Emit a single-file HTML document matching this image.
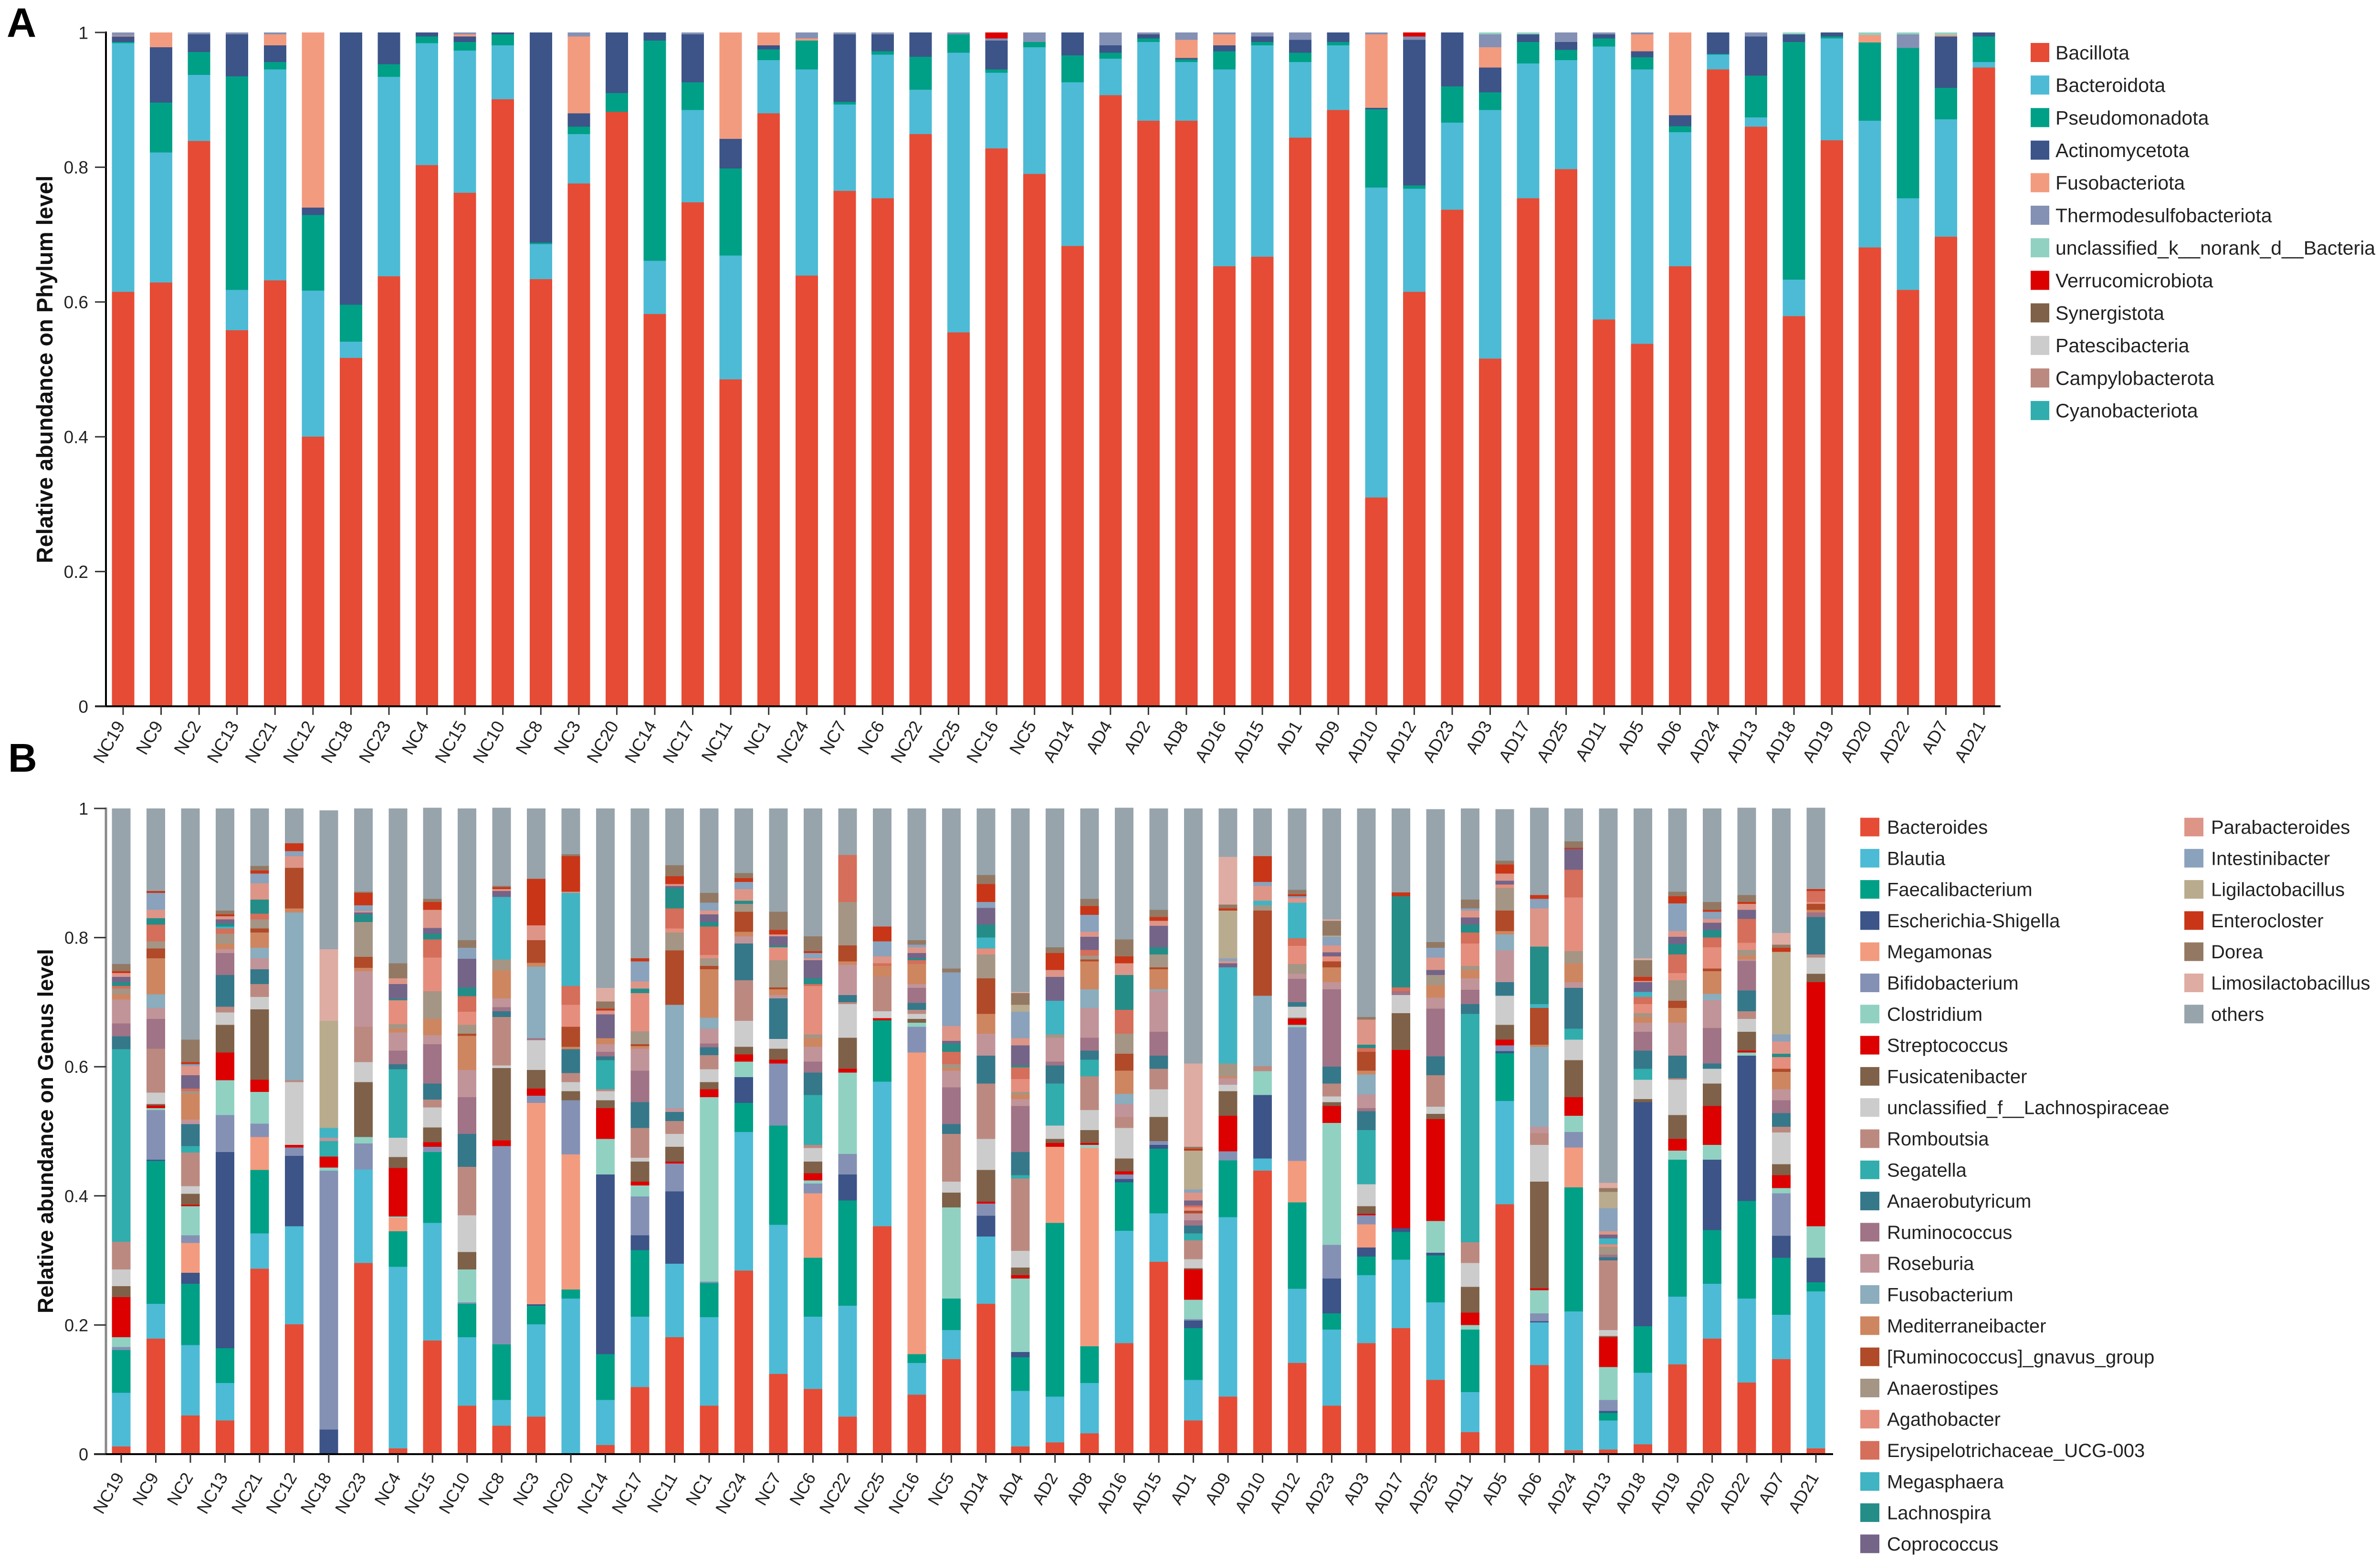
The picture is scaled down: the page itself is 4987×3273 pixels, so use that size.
<!DOCTYPE html>
<html lang="en">
<head>
<meta charset="utf-8">
<title>Relative abundance on Phylum and Genus level</title>
<style>
html,body{margin:0;padding:0;background:#fff;}
svg{display:block;}
text{font-family:"Liberation Sans",Arial,sans-serif;}
</style>
</head>
<body>
<svg id="figure" xmlns="http://www.w3.org/2000/svg" width="4987" height="3273" viewBox="0 0 4987 3273">
  <rect x="0" y="0" width="4987" height="3273" fill="#ffffff"/>
  <text x="14" y="77" font-size="86" font-weight="700" fill="#000">A</text>
  <text x="17" y="1617" font-size="84" font-weight="700" fill="#000">B</text>
  <text transform="translate(110,774) rotate(-90)" text-anchor="middle" font-size="47" font-weight="700" fill="#111">Relative abundance on Phylum level</text>
  <text transform="translate(111,2370) rotate(-90)" text-anchor="middle" font-size="45.5" font-weight="700" fill="#111">Relative abundance on Genus level</text>
  <g id="panelA"></g>
  <g id="panelB"></g>
</svg>
<script>
const phylumNames=["Bacillota","Bacteroidota","Pseudomonadota","Actinomycetota","Fusobacteriota","Thermodesulfobacteriota","unclassified_k__norank_d__Bacteria","Verrucomicrobiota","Synergistota","Patescibacteria","Campylobacterota","Cyanobacteriota"];
const phylumColors=["#E64B35","#4DBBD5","#00A087","#3C5488","#F39B7F","#8491B4","#91D1C2","#DC0000","#7E6148","#CCCCCC","#BC8980","#31ADAD"];
const genusNames=["Bacteroides","Blautia","Faecalibacterium","Escherichia-Shigella","Megamonas","Bifidobacterium","Clostridium","Streptococcus","Fusicatenibacter","unclassified_f__Lachnospiraceae","Romboutsia","Segatella","Anaerobutyricum","Ruminococcus","Roseburia","Fusobacterium","Mediterraneibacter","[Ruminococcus]_gnavus_group","Anaerostipes","Agathobacter","Erysipelotrichaceae_UCG-003","Megasphaera","Lachnospira","Coprococcus","Parabacteroides","Intestinibacter","Ligilactobacillus","Enterocloster","Dorea","Limosilactobacillus","others"];
const genusColors=["#E64B35","#4DBBD5","#00A087","#3C5488","#F39B7F","#8491B4","#91D1C2","#DC0000","#7E6148","#CCCCCC","#BC8980","#31ADAD","#35788A","#A07386","#C19499","#8BADBD","#CE8660","#B04A28","#A59585","#E58E7E","#D56E5A","#40B4C3","#258D88","#746488","#DD9588","#8AA2BC","#B9AB8E","#C93517","#937964","#DEACA2","#97A4AC"];
const sampleLabels=["NC19","NC9","NC2","NC13","NC21","NC12","NC18","NC23","NC4","NC15","NC10","NC8","NC3","NC20","NC14","NC17","NC11","NC1","NC24","NC7","NC6","NC22","NC25","NC16","NC5","AD14","AD4","AD2","AD8","AD16","AD15","AD1","AD9","AD10","AD12","AD23","AD3","AD17","AD25","AD11","AD5","AD6","AD24","AD13","AD18","AD19","AD20","AD22","AD7","AD21"];
const yTickValues=[0,0.2,0.4,0.6,0.8,1];
const yTickLabels=["0","0.2","0.4","0.6","0.8","1"];

/* Phylum level, one array per sample, in legend order */
const phylumNC19=[.615,.369,.002,.008,.001,.005];
const phylumNC9=[.629,.193,.074,.082,.022];
const phylumNC2=[.839,.098,.034,.026,0,.003];
const phylumNC13=[.558,.060,.317,.062,0,.003];
const phylumNC21=[.632,.313,.011,.025,.016,.003];
const phylumNC12=[.400,.217,.112,.011,.260];
const phylumNC18=[.517,.024,.055,.404];
const phylumNC23=[.638,.296,.019,.047];
const phylumNC4=[.803,.181,.010,.006];
const phylumNC15=[.762,.211,.013,.008,.003,.003];
const phylumNC10=[.901,.080,.016,.003];
const phylumNC8=[.634,.052,.002,.312];
const phylumNC3=[.776,.073,.011,.020,.114,.006];
const phylumNC20=[.882,0,.028,.090];
const phylumNC14=[.582,.079,.327,.012];
const phylumNC17=[.748,.137,.041,.071,0,.003];
const phylumNC11=[.485,.184,.129,.044,.158];
const phylumNC1=[.880,.079,.016,.006,.019];
const phylumNC24=[.639,.306,.043,0,.003,.009];
const phylumNC7=[.765,.128,.004,.100,0,.003];
const phylumNC6=[.754,.213,.005,.025,0,.003];
const phylumNC22=[.849,.066,.049,.036];
const phylumNC25=[.555,.415,.027,0,0,.003];
const phylumNC16=[.828,.112,.005,.043,0,.003,0,.009];
const phylumNC5=[.790,.188,.008,0,0,.014];
const phylumAD14=[.683,.243,.040,.034];
const phylumAD4=[.907,.054,.009,.011,0,.019];
const phylumAD2=[.869,.117,.005,.006,0,.003];
const phylumAD8=[.869,.087,.004,.002,.027,.011];
const phylumAD16=[.653,.292,.027,.009,.016,.003];
const phylumAD15=[.667,.314,.005,.008,0,.006];
const phylumAD1=[.844,.112,.014,.019,0,.011];
const phylumAD9=[.885,.096,.005,.014];
const phylumAD10=[.310,.460,.116,.002,.109,.003];
const phylumAD12=[.615,.153,.005,.216,0,.005,0,.006];
const phylumAD23=[.737,.129,.054,.080];
const phylumAD3=[.516,.369,.026,.037,.030,.019,.003];
const phylumAD17=[.754,.200,.032,.011,0,0,.003];
const phylumAD25=[.797,.162,.015,.012,0,.014];
const phylumAD11=[.574,.405,.012,.006,0,.003];
const phylumAD5=[.538,.407,.018,.009,.025,.003];
const phylumAD6=[.653,.199,.009,.016,.123];
const phylumAD24=[.945,.022,.001,.032];
const phylumAD13=[.860,.014,.062,.058,0,.006];
const phylumAD18=[.579,.054,.353,.011,0,0,.003];
const phylumAD19=[.840,.151,.003,.006];
const phylumAD20=[.681,.188,.116,0,.011,0,.004];
const phylumAD22=[.618,.136,.223,0,0,.020,.003];
const phylumAD7=[.697,.174,.047,.076,.002,0,.004];
const phylumAD21=[.948,.008,.038,.006];
const phylumRows=[phylumNC19,phylumNC9,phylumNC2,phylumNC13,phylumNC21,phylumNC12,phylumNC18,phylumNC23,phylumNC4,phylumNC15,phylumNC10,phylumNC8,phylumNC3,phylumNC20,phylumNC14,phylumNC17,phylumNC11,phylumNC1,phylumNC24,phylumNC7,phylumNC6,phylumNC22,phylumNC25,phylumNC16,phylumNC5,phylumAD14,phylumAD4,phylumAD2,phylumAD8,phylumAD16,phylumAD15,phylumAD1,phylumAD9,phylumAD10,phylumAD12,phylumAD23,phylumAD3,phylumAD17,phylumAD25,phylumAD11,phylumAD5,phylumAD6,phylumAD24,phylumAD13,phylumAD18,phylumAD19,phylumAD20,phylumAD22,phylumAD7,phylumAD21];

/* Genus level, one array per sample, 31 values in legend order */
const genusNC19=[.012,.083,.066,0,0, .005,.015,.062,.017,.026, .043,.298,.020,.020,.037, 0,.008,0,.009,0, .004,0,.006,.008,.006, 0,0,.003,.011,0,.241];
const genusNC9=[.179,.054,.221,.002,0, .077,.003,.004,.002,.018, .068,0,0,.046,.017, .021,.056,.015,.011,0, .026,0,.010,0,.013, .026,0,.003,0,0,.128];
const genusNC2=[.060,.109,.095,.017,.046, .012,.045,.002,.017,.012, .052,.010,.034,0,.007, 0,.040,0,.004,0, .004,0,0,.021,.014, .003,0,.003,.035,0,.358];
const genusNC13=[.052,.058,.054,.304,0, .057,.054,.043,.043,.019, .009,0,.049,.034,.006, 0,.008,0,.016,0, .008,.003,.005,.006,.005, 0,0,.003,.006,0,.158];
const genusNC21=[.287,.055,.098,0,.051, .021,.049,.019,.109,.019, .020,0,.023,0,.017, .016,.024,.006,.014,0, .009,0,.022,0,.025, .015,0,.005,.007,0,.089];
const genusNC12=[.201,.152,0,.109,0, .013,0,.004,0,.097, .003,0,0,0,0, .260,.006,.063,0,0, 0,0,0,0,.018, .008,0,.012,0,0,.054];
const genusNC18=[0,0,0,.038,0, .401,.005,.017,0,0, 0,.024,0,0,.005, 0,0,0,0,0, 0,.015,0,0,0, 0,.166,0,0,.111,.215];
const genusNC23=[.296,.145,0,0,0, .040,.010,0,.085,.031, .055,0,0,0,.086, 0,.005,.017,.054,0, 0,0,.012,.003,.002, .009,0,.019,.002,0,.129];
const genusNC4=[.009,.281,.055,0,.021, 0,.002,.075,.017,.030, 0,.106,.008,.021,.028, 0,.006,0,.007,.037, 0,0,.002,.023,.009, 0,0,0,.023,0,.240];
const genusNC15=[.176,.182,.110,0,0, .008,0,.007,.023,.031, .012,0,.025,.061,.014, 0,.025,0,.043,.052, .028,0,.009,.009,.028, 0,0,.012,.005,0,.141];
const genusNC10=[.075,.106,.052,0,0, .002,.051,0,.027,.057, .075,0,.051,.057,.042, 0,.053,.003,.014,.020, .024,0,.014,.044,0, .017,0,0,.012,0,.204];
const genusNC8=[.044,.040,.086,0,0, .307,0,.009,.112,.004, .075,0,.009,.006,.014, 0,.043,0,.017,0, 0,.097,0,.009,.003, 0,0,.003,.002,0,.121];
const genusNC3=[.058,.143,.029,.002,.312, .011,0,.011,.029,.046, 0,0,0,.003,0, .111,.006,.035,0,0, 0,0,0,0,.023, 0,0,.072,0,0,.109];
const genusNC20=[0,.241,.014,0,.209, .084,0,0,.014,.014, .014,0,.037,0,0, 0,.004,.031,0,.034, .029,.144,0,0,.002, 0,0,.055,.003,0,.071];
const genusNC14=[.014,.070,.071,.278,0, 0,.055,.048,.012,.014, .003,.045,.006,.007,.012, 0,.009,0,0,0, 0,0,0,.037,.006, 0,0,.003,.011,.021,.278];
const genusNC17=[.104,.109,.103,.023,0, .060,.017,.006,.031,.006, .046,0,.040,.049,.034, 0,.004,.003,.020,.059, 0,0,.007,0,.011, .031,0,.005,0,0,.232];
const genusNC11=[.181,.114,0,.112,0, .043,0,.003,.023,.020, .020,0,.014,0,.006, .160,0,.084,.028,.006, .031,0,.032,.003,.003, 0,0,.012,.017,0,.088];
const genusNC1=[.075,.137,.053,0,0, .002,.286,.012,.011,.020, .022,0,.012,.006,.023, .017,.075,.005,.012,.005, .044,0,.007,.012,.006, .012,0,0,.015,0,.131];
const genusNC24=[.284,.215,.045,.040,0, 0,.024,.011,.012,.040, .063,0,.057,0,.011, 0,.007,.031,.012,0, 0,0,.005,0,.018, .011,0,.006,.008,0,.100];
const genusNC7=[.124,.231,.154,0,0, .096,0,.006,.017,.015, 0,0,.063,0,.005, 0,.009,.003,.042,.020, 0,0,.003,.014,.003, 0,0,.007,.028,0,.160];
const genusNC6=[.101,.112,.091,0,.100, .015,.005,.011,.018,.021, .005,.077,.035,.017,.023, 0,.013,0,.006,.075, .003,0,.009,.028,.003, .008,0,.003,.023,0,.198];
const genusNC22=[.058,.172,.163,.040,0, .032,.126,.006,.048,.052, .003,0,.011,0,.047, 0,.005,.025,.067,0, .073,0,0,0,0, 0,0,0,0,0,.072];
const genusNC25=[.353,.224,.095,0,0, 0,0,.003,0,.011, .054,0,0,0,0, 0,.016,0,0,0, .004,0,0,0,.011, .023,0,.023,0,0,.183];
const genusNC16=[.092,.049,.014,0,.467, .040,.006,0,.006,.008, .006,0,.011,.023,.006, 0,.031,0,0,0, .006,0,.003,.008,.009, .004,0,0,.007,0,.204];
const genusNC5=[.147,.045,.049,0,0, 0,.141,0,.023,.017, .074,0,.015,.057,.026, 0,.004,0,.006,0, .019,0,.013,.004,.023, .083,0,0,.006,0,.248];
const genusAD14=[.233,.104,0,.032,0, .019,0,.003,.049,.048, .086,0,.043,0,.034, 0,.031,.055,.037,.009, 0,.017,.020,.026,0, .009,0,.028,.014,0,.103];
const genusAD4=[.012,.086,.052,.008,0, 0,.114,.005,.012,.026, .112,.005,.036,.071,.011, 0,.007,0,.004,.020, .018,0,.003,.031,.011, .041,.011,0,.018,.002,.284];
const genusAD2=[.018,.071,.269,0,.118, 0,0,.006,.006,.021, 0,.065,.028,.006,.037, 0,0,0,.005,0, 0,.052,0,.037,.011, 0,0,.026,.009,0,.215];
const genusAD8=[.032,.078,.057,0,.307, 0,.005,.003,.020,.031, .052,.026,.014,.020,.046, .029,.043,.003,.006,0, .009,0,0,.020,.008, .026,0,.014,.011,0,.140];
const genusAD16=[.172,.174,.075,.005,0, .007,0,.005,.020,.047, .017,0,0,0,.020, .016,.036,.026,.031,0, .037,0,.054,0,.018, 0,0,.011,.026,0,.204];
const genusAD15=[.298,.075,.100,.006,0, .006,0,0,.037,.043, .032,0,.020,.037,.063, .003,.031,.003,.020,0, 0,0,.011,.033,.008, 0,0,.006,.011,0,.157];
const genusAD1=[.052,.063,.080,.012,0, .002,.030,.047,.002,.014, .029,.011,.012,.008,.011, 0,0,.004,0,.005, .003,0,0,.008,.012, .005,.060,.003,.003,.129,.395];
const genusAD9=[.089,.278,.088,0,0, .014,0,.055,.038,.010, 0,0,0,0,.010, 0,.003,0,.020,0, 0,.149,0,.006,.003, .005,.074,.003,.006,.074,.075];
const genusAD10=[.439,.019,0,.098,0, 0,.037,0,0,0, .008,0,0,0,0, .109,0,.132,.008,0, 0,.007,0,0,.023, .006,0,.040,0,0,.074];
const genusAD12=[.141,.115,.134,0,.064, .207,.004,.009,.002,.017, 0,0,.007,.036,.008, 0,0,0,.015,.028, .012,.055,0,0,.007, .003,0,.003,.007,0,.126];
const genusAD23=[.075,.118,.025,.054,0, .052,.189,.026,.006,.009, .020,0,.026,.120,.011, 0,.023,.009,0,.008, 0,0,0,.006,.011, .013,.002,0,.023,.002,.172];
const genusAD3=[.172,.105,.029,.014,.036, .014,0,.002,.012,.034, 0,.084,.029,.005,.021, .031,.006,.029,0,0, .006,0,.005,0,.039, 0,0,0,.004,0,.323];
const genusAD17=[.195,.106,.043,.006,0, 0,0,.276,.057,.028, 0,0,0,.006,0, 0,0,0,0,0, .006,0,.141,0,0, 0,0,.006,0,0,.130];
const genusAD25=[.115,.120,.073,.004,0, 0,.049,.158,.008,.011, .049,0,.029,.074,.017, 0,.019,0,.016,0, 0,0,0,.008,.019, .015,0,0,.009,0,.206];
const genusAD11=[.034,.062,.097,0,0, 0,.007,.019,.040,.037, .032,.354,.015,.022,.018, 0,.013,0,.006,.035, .017,0,.012,.011,.011, .003,0,0,.014,0,.141];
const genusAD5=[.387,.160,.074,.003,0, .009,0,.009,.023,.045, 0,0,.021,0,.049, .025,.005,.032,.035,.005, 0,0,0,.006,.011, 0,0,.014,.006,0,.080];
const genusAD6=[.138,.066,0,.002,0, .012,.036,.003,.165,.057, .018,0,0,0,.010, .124,.003,.057,0,0, 0,.006,.089,0,.059, .015,0,.006,0,0,.135];
const genusAD24=[.006,.215,.192,0,.062, .024,.025,.029,.057,.032, 0,.017,.063,0,.009, 0,.029,0,.019,.083, .043,0,0,.032,0, 0,0,.002,.010,0,.051];
const genusAD13=[.007,.045,.012,.003,0, .017,.051,.046,.002,.009, .108,0,.005,.004,0, 0,0,0,.012,.004, 0,.009,0,.006,.005, .036,.025,0,.006,.008,.580];
const genusAD18=[.015,.111,.072,.347,0, 0,0,0,.005,.030, 0,.017,.028,.029,.014, 0,.009,0,.006,.014, .011,.008,0,.015,.002, 0,0,.006,.026,.003,.232];
const genusAD19=[.139,.105,.212,0,0, 0,.014,.018,.037,.055, .002,0,.035,0,.051, 0,.023,.011,.032,.011, .029,0,.016,.011,.009, .043,0,.011,.007,0,.129];
const genusAD20=[.179,.085,.083,.109,0, 0,.023,.060,.035,.023, 0,0,.008,.055,.043, .010,.035,.004,0,.033, .015,0,.012,.011,.006, .011,0,.003,.012,0,.145];
const genusAD22=[.111,.130,.151,.225,0, 0,.005,.003,.029,.020, .012,0,.032,.046,.002, 0,.006,0,.009,.011, .037,0,0,.014,.009, 0,0,.003,.011,0,.135];
const genusAD7=[.147,.069,.088,.034,0, .066,.008,.020,.017,.049, .009,0,.021,.020,.017, 0,.027,.005,0,.018, 0,0,.005,0,.019, .011,.128,.006,.005,.018,.193];
const genusAD21=[.009,.243,.014,.038,0, 0,.049,.378,.013,.025, .005,0,.058,.007,0, 0,.004,.009,0,.003, .017,0,0,0,0, 0,0,.003,0,0,.126];
const genusRows=[genusNC19,genusNC9,genusNC2,genusNC13,genusNC21,genusNC12,genusNC18,genusNC23,genusNC4,genusNC15,genusNC10,genusNC8,genusNC3,genusNC20,genusNC14,genusNC17,genusNC11,genusNC1,genusNC24,genusNC7,genusNC6,genusNC22,genusNC25,genusNC16,genusNC5,genusAD14,genusAD4,genusAD2,genusAD8,genusAD16,genusAD15,genusAD1,genusAD9,genusAD10,genusAD12,genusAD23,genusAD3,genusAD17,genusAD25,genusAD11,genusAD5,genusAD6,genusAD24,genusAD13,genusAD18,genusAD19,genusAD20,genusAD22,genusAD7,genusAD21];

const SVGNS="http://www.w3.org/2000/svg";
function make(parent,tag,attrs,content){
  const el=document.createElementNS(SVGNS,tag);
  for(const k in attrs){el.setAttribute(k,attrs[k]);}
  if(content!==undefined){el.textContent=content;}
  parent.appendChild(el);
  return el;
}
function drawPanel(cfg){
  const root=document.getElementById(cfg.id);
  const x=function(i){return cfg.x0+cfg.step*i;};
  const y=function(v){return cfg.y0-v*cfg.yLen;};

  const bars=make(root,'g',{});
  
  
  cfg.rows.forEach(function(row,i){
    let cum=0;
    const bar=make(bars,'g',{});
    
    
    row.forEach(function(val,s){
      if(!val){return;}
      const top=y(cum+val), bottom=y(cum);
      const seg=make(bar,'rect',{x:x(i)-cfg.barW/2,y:top,width:cfg.barW,height:bottom-top,fill:cfg.colors[s],'shape-rendering':'crispEdges'});
      
      
      cum+=val;
    });
  });

  const yAxis=make(root,'line',{x1:cfg.axisX,x2:cfg.axisX,y1:y(1)-2,y2:cfg.y0,stroke:cfg.yAxisColor,'stroke-width':cfg.yAxisW});
  
  
  const xAxis=make(root,'line',{x1:cfg.axisStart,x2:cfg.axisEnd,y1:cfg.y0,y2:cfg.y0,stroke:'#000','stroke-width':4});
  
  

  yTickValues.forEach(function(v,i){
    const tick=make(root,'line',{x1:cfg.axisStart,x2:cfg.axisX,y1:y(v),y2:y(v),stroke:'#333','stroke-width':3});
    
    
    const label=make(root,'text',{x:cfg.axisX-37,y:y(v)+cfg.tickFont*0.36,'text-anchor':'end','font-size':cfg.tickFont,fill:'#222'},yTickLabels[i]);
    
    
  });

  sampleLabels.forEach(function(name,i){
    const tick=make(root,'line',{x1:x(i),x2:x(i),y1:cfg.y0,y2:cfg.y0+18,stroke:'#333','stroke-width':3});
    
    
    const ax=x(i)+cfg.labelDx, ay=cfg.y0+cfg.labelDy;
    const label=make(root,'text',{transform:'translate('+ax+','+ay+') rotate(-60)','text-anchor':'end','font-size':cfg.tickFont,fill:'#222'},name);
    
    
  });

  const legend=make(root,'g',{});
  
  
  cfg.names.forEach(function(name,s){
    const col=s<cfg.legendPerCol?0:1;
    const row=s<cfg.legendPerCol?s:s-cfg.legendPerCol;
    const cy=cfg.legendY+cfg.legendStep*row;
    const entry=make(legend,'g',{});
    
    
    make(entry,'rect',{x:cfg.legendX[col],y:cy-cfg.swatchH/2,width:cfg.swatchW,height:cfg.swatchH,fill:cfg.colors[s]});
    make(entry,'text',{x:cfg.legendX[col]+cfg.textGap,y:cy+cfg.legendFont*0.35,'font-size':cfg.legendFont,fill:'#222'},name);
  });
}

drawPanel({id:'panelA',rows:phylumRows,names:phylumNames,colors:phylumColors,
  x0:258,step:79.57,barW:47,y0:1480,yLen:1412,axisX:222,axisStart:199,axisEnd:4192,yAxisW:4,yAxisColor:'#000',
  tickFont:37,labelDx:5,labelDy:40,
  legendX:[4255],legendY:110,legendStep:68.2,legendPerCol:12,swatchW:39,swatchH:40,textGap:52,legendFont:41});
drawPanel({id:'panelB',rows:genusRows,names:genusNames,colors:genusColors,
  x0:254,step:72.47,barW:39,y0:3047,yLen:1353,axisX:222,axisStart:197,axisEnd:3841,yAxisW:5,yAxisColor:'#888',
  tickFont:36,labelDx:7,labelDy:48,
  legendX:[3898,4577],legendY:1733,legendStep:65.3,legendPerCol:24,swatchW:40,swatchH:39,textGap:56,legendFont:40});
</script>
</body>
</html>
